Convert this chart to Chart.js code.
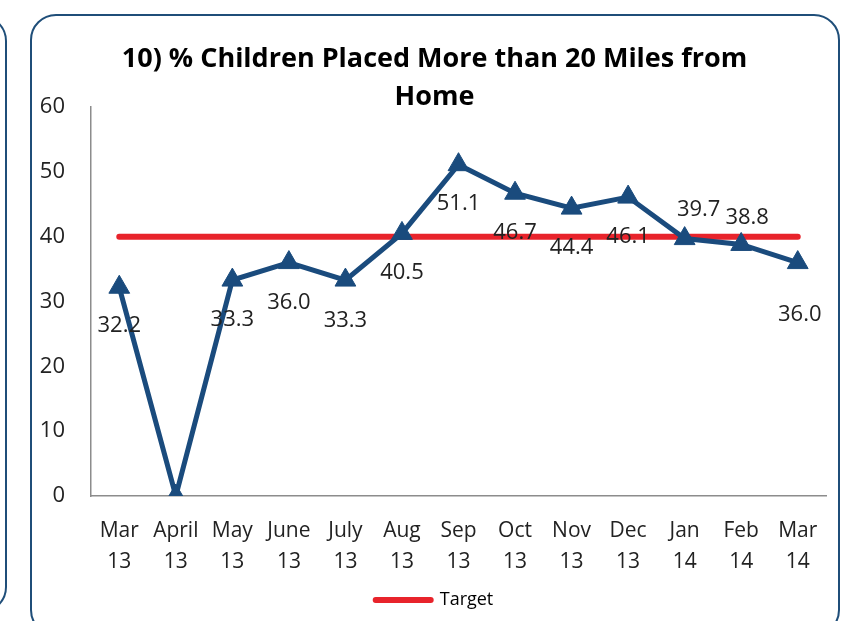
<!DOCTYPE html>
<html>
<head>
<meta charset="utf-8">
<script src="https://cdn.jsdelivr.net/npm/chart.js@4.4.1/dist/chart.umd.min.js"></script>
<style>
    html, body { margin: 0; padding: 0; background: #ffffff; overflow: hidden; }
    #wrap { position: relative; width: 864px; height: 621px; }
    .frame { position: absolute; border: 2px solid #1F4E79; border-radius: 26px; box-sizing: border-box; }
    #prev { left: -120px; top: 15px; width: 127px; height: 598px; }
    #main { left: 30px; top: 14px; width: 810px; height: 622px; }
    canvas { position: absolute; left: 0; top: 0; }
</style>
</head>
<body>
<div id="wrap">
    <div class="frame" id="prev"></div>
    <div class="frame" id="main"></div>
    <canvas id="milesChart" width="864" height="621"></canvas>
</div>
<script>
const categories = [
    ['Mar', '13'], ['April', '13'], ['May', '13'], ['June', '13'], ['July', '13'],
    ['Aug', '13'], ['Sep', '13'], ['Oct', '13'], ['Nov', '13'], ['Dec', '13'],
    ['Jan', '14'], ['Feb', '14'], ['Mar', '14']
];
const percentValues = [32.2, 0, 33.3, 36.0, 33.3, 40.5, 51.1, 46.7, 44.4, 46.1, 39.7, 38.8, 36.0];
const targetValues = [40, 40, 40, 40, 40, 40, 40, 40, 40, 40, 40, 40, 40];
const yTicks = [0, 10, 20, 30, 40, 50, 60];

// where each value label sits relative to its point (dx, dy); null = no label
const labelShift = [
    [0, 39], null, [0, 40], [0, 40], [0, 41], [0, 39], [0, 39],
    [0, 40], [0, 40], [0, 40], [14, -29], [6, -27], [2, 52]
];

const FONT = '"Open Sans", "Noto Sans", sans-serif';
const TEXT_COLOR = '#222222';
const LINE_BLUE = '#1A4B7D';
const TARGET_RED = '#E8232B';

const valueLabels = {
    id: 'valueLabels',
    afterDatasetsDraw(chart) {
        const ctx = chart.ctx;
        const meta = chart.getDatasetMeta(0);
        ctx.save();
        ctx.font = '22px ' + FONT;
        ctx.fillStyle = TEXT_COLOR;
        ctx.textAlign = 'center';
        ctx.textBaseline = 'middle';
        meta.data.forEach((pt, i) => {
            const shift = labelShift[i];
            if (!shift) return;
            ctx.fillText(percentValues[i].toFixed(1), pt.x + shift[0], pt.y + shift[1]);
        });
        ctx.restore();
    }
};

const ctx = document.getElementById('milesChart');

new Chart(ctx, {
    type: 'line',
    data: {
        labels: categories,
        datasets: [
            {
                label: '% Children',
                data: percentValues,
                borderColor: LINE_BLUE,
                backgroundColor: LINE_BLUE,
                borderWidth: 5,
                pointStyle: 'triangle',
                pointRadius: 12,
                pointBorderWidth: 1,
                pointBackgroundColor: LINE_BLUE,
                pointBorderColor: LINE_BLUE,
                tension: 0,
                order: 1
            },
            {
                label: 'Target',
                data: targetValues,
                borderColor: TARGET_RED,
                backgroundColor: TARGET_RED,
                borderWidth: 6,
                borderCapStyle: 'round',
                pointRadius: 0,
                tension: 0,
                order: 2
            }
        ]
    },
    options: {
        responsive: false,
        animation: false,
        layout: {
            padding: { left: 31, right: 26, top: 0, bottom: 2 }
        },
        plugins: {
            title: {
                display: true,
                text: ['10) % Children Placed More than 20 Miles from', 'Home'],
                color: '#000000',
                font: { family: FONT, size: 27, weight: 'bold', lineHeight: 1.407 },
                padding: { top: 40, bottom: -9 }
            },
            legend: {
                position: 'bottom',
                labels: {
                    color: TEXT_COLOR,
                    font: { family: FONT, size: 18 },
                    usePointStyle: true,
                    pointStyleWidth: 55,
                    boxHeight: 18,
                    padding: 10,
                    generateLabels: function(chart) {
                        return [{
                            text: 'Target',
                            fillStyle: TARGET_RED,
                            strokeStyle: TARGET_RED,
                            lineWidth: 6,
                            lineCap: 'round',
                            pointStyle: 'line',
                            hidden: false,
                            datasetIndex: 1
                        }];
                    }
                }
            },
            tooltip: { enabled: false }
        },
        scales: {
            x: {
                offset: true,
                grid: { display: false, drawTicks: false },
                border: { display: true, color: '#8C8C8C', width: 1.5 },
                ticks: {
                    color: TEXT_COLOR,
                    font: { family: FONT, size: 21, lineHeight: 1.5 },
                    padding: 19,
                    maxRotation: 0,
                    autoSkip: false
                },
                afterFit: function(scale) {
                    scale.height -= 16;
                }
            },
            y: {
                min: 0,
                max: 60,
                afterBuildTicks: function(scale) {
                    scale.ticks = yTicks.map(v => ({ value: v }));
                },
                grid: { display: false, drawTicks: false },
                border: { display: true, color: '#8C8C8C', width: 1.5 },
                ticks: {
                    color: TEXT_COLOR,
                    font: { family: FONT, size: 22 },
                    padding: 26
                },
                afterFit: function(scale) {
                    scale.width = 60;
                }
            },
            yRight: {
                type: 'linear',
                position: 'right',
                display: true,
                grid: { display: false, drawTicks: false },
                border: { display: false },
                ticks: { display: false },
                afterFit: function(scale) {
                    scale.width = 12;
                }
            }
        }
    },
    plugins: [valueLabels]
});
</script>
</body>
</html>
